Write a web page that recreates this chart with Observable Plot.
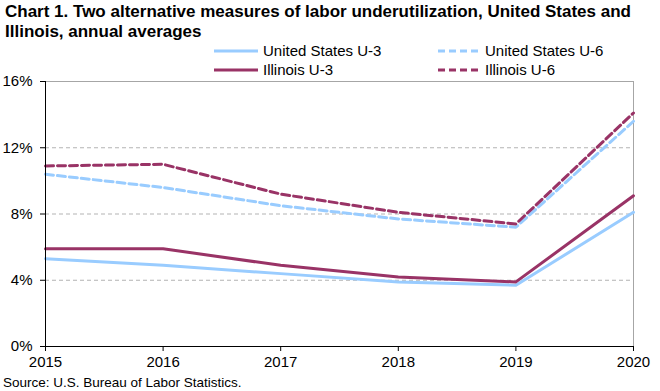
<!DOCTYPE html>
<html><head><meta charset="utf-8">
<script src="https://cdn.jsdelivr.net/npm/d3@7"></script>
<script src="https://cdn.jsdelivr.net/npm/@observablehq/plot@0.6"></script>
<style>
body{margin:0;background:#fff;width:660px;height:391px;overflow:hidden;position:relative;font-family:"Liberation Sans",Arial,sans-serif;color:#000}
#title{position:absolute;left:5px;top:2px;font-weight:bold;font-size:17px;line-height:20px;white-space:nowrap}
#chart{position:absolute;left:0;top:60px}
#source{position:absolute;left:3px;top:375px;font-size:13.5px;line-height:16px;white-space:nowrap}
.leg{position:absolute;font-size:15px;line-height:18px;white-space:nowrap}
.leg svg{position:absolute;top:0}
</style></head>
<body>
<div id="title">Chart 1. Two alternative measures of labor underutilization, United States and<br>Illinois, annual averages</div>
<div id="legend"></div>
<div id="chart"></div>
<div id="source">Source: U.S. Bureau of Labor Statistics.</div>
<script>
const years = [2015, 2016, 2017, 2018, 2019, 2020];
const usU3 = [5.3, 4.9, 4.4, 3.9, 3.7, 8.1];
const usU6 = [10.4, 9.6, 8.5, 7.7, 7.2, 13.6];
const ilU3 = [5.9, 5.9, 4.9, 4.2, 3.9, 9.1];
const ilU6 = [10.9, 11.0, 9.2, 8.1, 7.4, 14.1];
const yTicks = [0, 4, 8, 12, 16];

const blue = "#99ccff", maroon = "#993366";
const series = [
  {name: "United States U-3", values: usU3, color: blue, dash: null},
  {name: "United States U-6", values: usU6, color: blue, dash: "8,4"},
  {name: "Illinois U-3", values: ilU3, color: maroon, dash: null},
  {name: "Illinois U-6", values: ilU6, color: maroon, dash: "8,4"}
];
const rows = s => years.map((y, i) => ({year: y, value: s.values[i]}));

const chart = Plot.plot({
  width: 660, height: 310,
  marginLeft: 45, marginRight: 27, marginTop: 21, marginBottom: 24,
  style: {fontFamily: "'Liberation Sans',Arial,sans-serif", fontSize: "15px", color: "#000", background: "transparent", overflow: "visible"},
  x: {domain: [2015, 2020], label: null, axis: null},
  y: {domain: [0, 16], label: null, axis: null},
  marks: [
    Plot.ruleY(yTicks.filter(d => d > 0 && d < 16), {stroke: "#b3b3b3", strokeDasharray: "4,3", strokeWidth: 1}),
    Plot.ruleY([16], {stroke: "#a6a6a6", strokeWidth: 1}),
    Plot.ruleX([2020], {stroke: "#a6a6a6", strokeWidth: 1}),
    ...series.map(s => Plot.line(rows(s), {x: "year", y: "value", stroke: s.color, strokeWidth: 3, strokeDasharray: s.dash})),
    Plot.ruleX([2015], {stroke: "#000", strokeWidth: 1}),
    Plot.ruleY([0], {stroke: "#000", strokeWidth: 1}),
    Plot.axisX({ticks: years, tickFormat: d => String(d), tickSize: 5, tickPadding: 5, stroke: "#000", label: null}),
    Plot.axisY({ticks: yTicks, tickFormat: d => d + "%", tickSize: 5, tickPadding: 8, stroke: "#000", label: null})
  ]
});
document.getElementById("chart").appendChild(chart);

// legend: sample line then label
const legPos = [[214, 51], [438, 51], [214, 70], [438, 70]];
const legend = document.getElementById("legend");
series.forEach((s, i) => {
  const [lx, cy] = legPos[i];
  const d = document.createElement("div");
  d.className = "leg";
  d.style.left = lx + "px";
  d.style.top = (cy - 9) + "px";
  d.style.paddingLeft = (i % 2 ? 47 : 49) + "px";
  d.innerHTML = `<svg width="44" height="18" style="left:0"><line x1="0" x2="44" y1="9" y2="9" stroke="${s.color}" stroke-width="3" ${s.dash ? `stroke-dasharray="7,4"` : ""}/></svg>${s.name}`;
  legend.appendChild(d);
});
</script>
</body></html>
